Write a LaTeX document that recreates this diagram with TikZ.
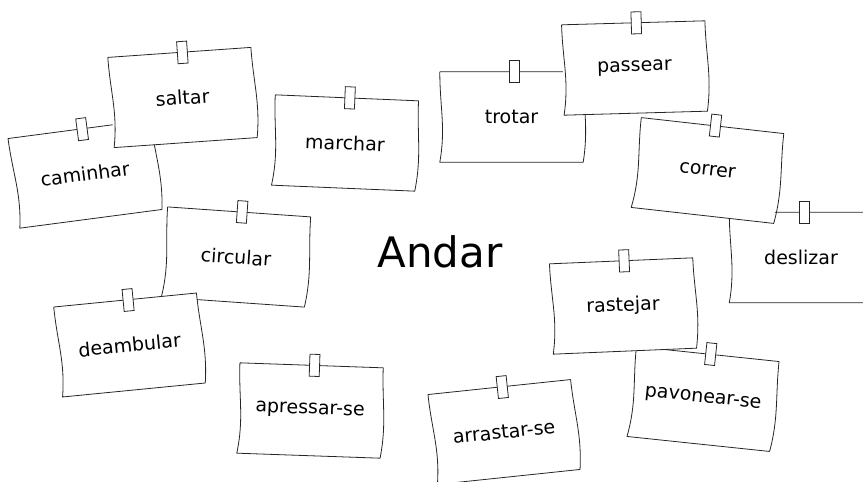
\documentclass[tikz,border=0pt]{standalone}
\usepackage{fontspec}
\newfontfamily\notefont{DejaVu Sans}
% one pinned note: position, angle, word
\newcommand\note[3]{%
	\node[note, rotate=#2] (#3) at (#1) {#3};
	\draw[edge] (#3.north west) -- (#3.north east) to[relative, out=0, in=171] (#3.south east)
		-- (#3.south west) to[relative, out=-10, in=180] (#3.north west);
	\node[tab, rotate=#2] (#3 tab) at ([xshift=3pt]#3.north) {};
}
\begin{document}
\begin{tikzpicture}[x=1pt, y=-1pt]
	\tikzstyle{note}=[fill=white, minimum width=143pt, minimum height=90pt, inner sep=0pt, font=\notefont\fontsize{19}{23}\selectfont]
	\tikzstyle{edge}=[line width=0.8pt, black!85, line join=round]
	\tikzstyle{tab}=[draw=black!85, line width=0.8pt, fill=white, minimum width=10pt, minimum height=22pt, inner sep=0pt]
	\useasboundingbox (0,0) rectangle (863,482);
	\note{85,174}{7.5}{caminhar}
	\note{182.5,97.5}{4}{saltar}
	\note{345,143}{-2.4}{marchar}
	\note{511.5,117}{0}{trotar}
	\note{634.5,68}{1.6}{passear}
	\note{801,257.5}{0}{deslizar}
	\note{707.5,170.5}{-6.4}{correr}
	\note{236,257}{-4}{circular}
	\note{129.5,345}{5.6}{deambular}
	\note{310,410.5}{-2}{apressar-se}
	\note{504,432}{6}{arrastar-se}
	\note{703,399}{-6}{pavonear-se}
	\note{623,306}{2.4}{rastejar}
	\node[font=\notefont\fontsize{42}{50}\selectfont] (andar) at (440,252) {Andar};
\end{tikzpicture}
\end{document}
